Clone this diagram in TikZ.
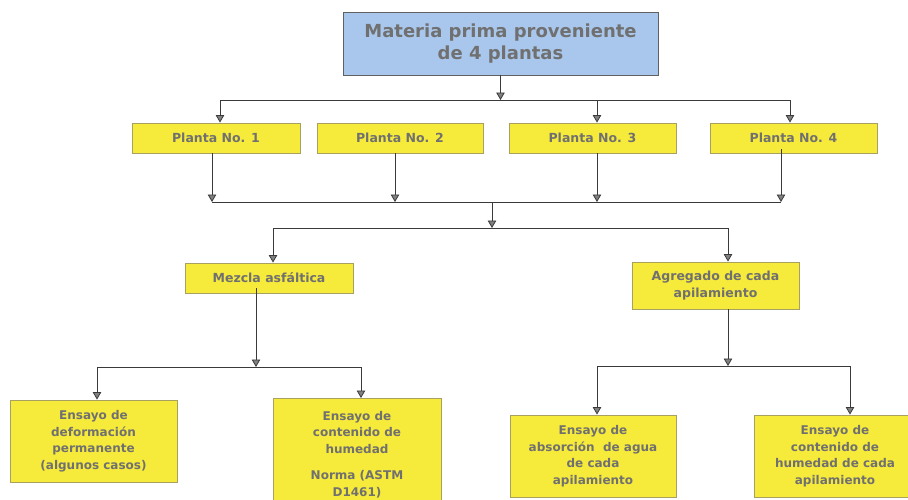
\documentclass[tikz,border=0pt]{standalone}
\usepackage{fontspec}
\setmainfont{DejaVu Sans}
\usetikzlibrary{arrows.meta}
\definecolor{boxyellow}{HTML}{F6EA3A}
\definecolor{boxedge}{HTML}{A8A060}
\definecolor{titleblue}{HTML}{A9C7EC}
\definecolor{labelgray}{HTML}{707070}
\definecolor{linegray}{HTML}{3A3A3A}
\tikzset{
  box/.style={draw=boxedge, fill=boxyellow, line width=0.9pt, text=labelgray,
    font=\fontsize{12.5}{16.5}\selectfont\bfseries, align=center, inner sep=0pt,
    minimum height=30pt},
  testbox/.style={box, font=\fontsize{12}{16.5}\selectfont\bfseries},
  titlebox/.style={box, draw=linegray!80, fill=titleblue,
    font=\fontsize{18}{22}\selectfont\bfseries, minimum width=315pt, minimum height=63pt},
  arr/.style={->, >={Triangle[width=8.5pt,length=7.5pt,fill=gray]}},
  wire/.style={draw=linegray, line width=0.8pt}
}
\begin{document}
\begin{tikzpicture}[x=1pt,y=-1pt]
\useasboundingbox[fill=white] (0,0) rectangle (908,499) ;
\node[titlebox] (top) at (500.5,43.5) {Materia prima proveniente\\de 4 plantas} ;
\node[box, minimum width=168pt] (p1) at (216,138) {Planta No. 1} ;
\node[box, minimum width=166pt] (p2) at (400,138) {Planta No. 2} ;
\node[box, minimum width=167pt] (p3) at (592.5,138) {Planta No. 3} ;
\node[box, minimum width=167pt] (p4) at (793.5,138) {Planta No. 4} ;
\node[box, minimum width=168pt] (mezcla) at (269,278) {Mezcla asfáltica} ;
\node[box, minimum width=167pt, minimum height=47pt] (agregado) at (715.5,285.5) {Agregado de cada\\apilamiento} ;
\node[testbox, minimum width=167pt, minimum height=82pt] (defor) at (93.5,441) {Ensayo de\\deformación\\permanente\\(algunos casos)} ;
\node[testbox, minimum width=168pt, minimum height=112pt, anchor=north] (humed) at (357,398) {Ensayo de\\contenido de\\humedad\\[10pt]Norma (ASTM\\D1461)} ;
\node[testbox, minimum width=166pt, minimum height=82pt] (absor) at (593,456) {Ensayo de\\absorción \ de agua\\de cada\\apilamiento} ;
\node[testbox, minimum width=162pt, minimum height=82pt] (humapi) at (835,456) {Ensayo de\\contenido de\\humedad de cada\\apilamiento} ;
\coordinate (busA) at (220,100) ;
\coordinate (busB) at (212,202) ;
\coordinate (busC) at (273,228) ;
\coordinate (busD) at (97,367) ;
\coordinate (busE) at (597,366) ;
\draw[wire, arr] (top.south) -- (top.south |- busA) ;
\draw[wire] (busA) -- ([xshift=-3.5pt]p4.north |- busA) ;
\draw[wire, arr] (busA) -- (busA |- p1.north) ;
\draw[wire, arr] ([xshift=4.5pt]p3.north |- busA) -- ([xshift=4.5pt]p3.north) ;
\draw[wire, arr] ([xshift=-3.5pt]p4.north |- busA) -- ([xshift=-3.5pt]p4.north) ;
\draw[wire, arr] ([xshift=-4pt]p1.south) -- ([xshift=-4pt]p1.south |- busB) ;
\draw[wire, arr] ([xshift=-5pt]p2.south) -- ([xshift=-5pt]p2.south |- busB) ;
\draw[wire, arr] ([xshift=4.5pt]p3.south) -- ([xshift=4.5pt]p3.south |- busB) ;
\draw[wire, arr] ([xshift=-12.5pt,yshift=4pt]p4.south) -- ([xshift=-12.5pt]p4.south |- busB) ;
\draw[wire] (busB) -- ([xshift=-12.5pt]p4.south |- busB) ;
\draw[wire, arr] (busB -| 492,0) -- (busC -| 492,0) ;
\draw[wire] (busC) -- ([xshift=12.5pt]agregado.north |- busC) ;
\draw[wire, arr] (busC) -- (busC |- mezcla.north) ;
\draw[wire, arr] ([xshift=12.5pt]agregado.north |- busC) -- ([xshift=12.5pt]agregado.north) ;
\draw[wire, arr] ([xshift=-13pt,yshift=5pt]mezcla.south) -- ([xshift=-13pt]mezcla.south |- busD) ;
\draw[wire] (busD) -- ([xshift=4pt]humed.north |- busD) ;
\draw[wire, arr] (busD) -- (busD |- defor.north) ;
\draw[wire, arr] ([xshift=4pt]humed.north |- busD) -- ([xshift=4pt]humed.north) ;
\draw[wire, arr] ([xshift=12.5pt]agregado.south) -- ([xshift=12.5pt]agregado.south |- busE) ;
\draw[wire] (busE) -- ([xshift=15pt]humapi.north |- busE) ;
\draw[wire, arr] (busE) -- (busE |- absor.north) ;
\draw[wire, arr] ([xshift=15pt]humapi.north |- busE) -- ([xshift=15pt]humapi.north) ;
\end{tikzpicture}
\end{document}
